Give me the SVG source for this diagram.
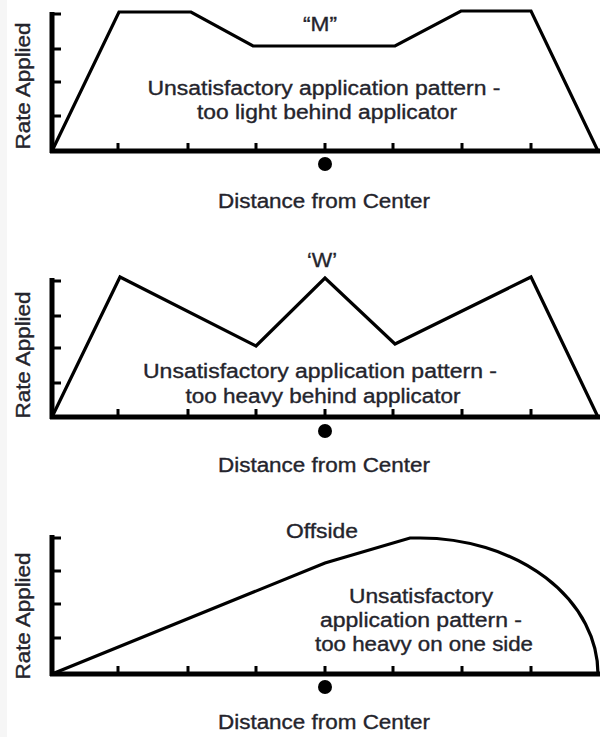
<svg xmlns="http://www.w3.org/2000/svg" width="600" height="737" viewBox="0 0 600 737">
<style>
.ax{stroke:#000;stroke-width:5;fill:none}
.tk{stroke:#000;stroke-width:3;fill:none}
.cv{stroke:#000;stroke-width:3.2;fill:none;stroke-linejoin:miter}
.dot{fill:#000}
text{font-family:"Liberation Sans",Arial,Helvetica,sans-serif;font-size:20px;fill:#24242c;stroke:#24242c;stroke-width:0.35;text-anchor:middle}
</style>
<rect x="0" y="0" width="600" height="737" fill="#fff"/>
<rect x="0" y="0" width="7" height="737" fill="#f6f6f6"/>

<g id="chart-m">
  <path class="ax" d="M52,12 V153 M50,151 H600"/>
  <path class="tk" d="M52,14 H61 M52,49 H61 M52,82 H61 M52,116 H61 M118,151 V143 M188,151 V143 M256,151 V143 M325,151 V143 M393,151 V143 M462,151 V143 M531,151 V143"/>
  <polyline class="cv" points="52,151 119,12 191,12 253,46 395,46 461,11 531,11 598,151"/>
  <circle class="dot" cx="325" cy="164" r="7"/>
  <text x="320" y="31" textLength="34" lengthAdjust="spacingAndGlyphs">“M”</text>
  <text x="324" y="95" textLength="353" lengthAdjust="spacingAndGlyphs">Unsatisfactory application pattern -</text>
  <text x="327" y="119" textLength="260" lengthAdjust="spacingAndGlyphs">too light behind applicator</text>
  <text x="324" y="208" textLength="212" lengthAdjust="spacingAndGlyphs">Distance from Center</text>
  <text transform="translate(30,86) rotate(-90)" textLength="127" lengthAdjust="spacingAndGlyphs">Rate Applied</text>
</g>

<g id="chart-w">
  <path class="ax" d="M52,278 V419 M50,417 H600"/>
  <path class="tk" d="M52,281 H61 M52,316 H61 M52,348 H61 M52,383 H61 M118,417 V409 M188,417 V409 M256,417 V409 M325,417 V409 M393,417 V409 M462,417 V409 M531,417 V409"/>
  <polyline class="cv" points="52,417 120,277 256,346 325,278 395,344 531,277 598,417"/>
  <circle class="dot" cx="325" cy="431" r="7"/>
  <text x="322" y="267" textLength="30" lengthAdjust="spacingAndGlyphs">‘W’</text>
  <text x="320" y="378" textLength="354" lengthAdjust="spacingAndGlyphs">Unsatisfactory application pattern -</text>
  <text x="323" y="403" textLength="275" lengthAdjust="spacingAndGlyphs">too heavy behind applicator</text>
  <text x="324" y="472" textLength="212" lengthAdjust="spacingAndGlyphs">Distance from Center</text>
  <text transform="translate(30,355) rotate(-90)" textLength="127" lengthAdjust="spacingAndGlyphs">Rate Applied</text>
</g>

<g id="chart-offside">
  <path class="ax" d="M52,535 V676 M50,674 H600"/>
  <path class="tk" d="M52,538 H61 M52,571 H61 M52,604 H61 M52,638 H61 M118,674 V666 M188,674 V666 M256,674 V666 M325,674 V666 M393,674 V666 M462,674 V666 M531,674 V666"/>
  <path class="cv" d="M52,674 L325,563 L410,538 L420,538 A178,136 0 0 1 598,674"/>
  <circle class="dot" cx="325" cy="687" r="7"/>
  <text x="322" y="538" textLength="72" lengthAdjust="spacingAndGlyphs">Offside</text>
  <text x="421" y="603" textLength="144" lengthAdjust="spacingAndGlyphs">Unsatisfactory</text>
  <text x="421" y="627" textLength="202" lengthAdjust="spacingAndGlyphs">application pattern -</text>
  <text x="424" y="651" textLength="218" lengthAdjust="spacingAndGlyphs">too heavy on one side</text>
  <text x="324" y="729" textLength="212" lengthAdjust="spacingAndGlyphs">Distance from Center</text>
  <text transform="translate(30,616) rotate(-90)" textLength="127" lengthAdjust="spacingAndGlyphs">Rate Applied</text>
</g>
</svg>
